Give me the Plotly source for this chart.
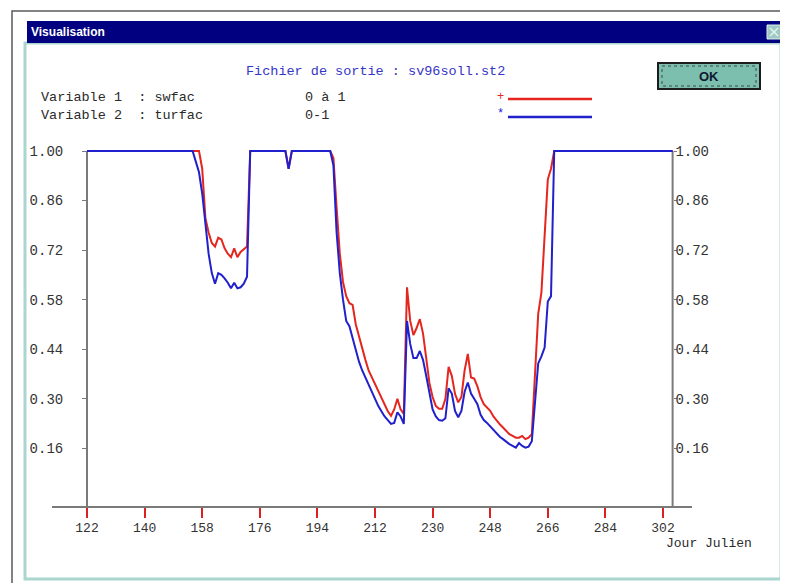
import plotly.graph_objects as go

# ---------------- data ----------------
swfac_days = [122, 157, 158, 159, 160, 161, 162, 163, 164, 165, 166, 167, 168, 169, 170, 171, 172, 173,
              184, 185, 186,
              198, 199, 200, 201, 202, 203, 204, 205, 206, 207, 208, 209, 210, 211, 212, 213, 214, 215,
              216, 217, 218, 219, 220, 221, 222, 223, 224, 225, 226, 227, 228, 229, 230, 231, 232, 233,
              234, 235, 236, 237, 238, 239, 240, 241, 242, 243, 244, 245, 246, 247, 248, 249, 250, 251,
              252, 253, 254, 255, 256, 257, 258, 259, 260, 261, 262, 263, 264, 265, 266, 267, 268, 305]
swfac = [1.0, 1.0, 0.95, 0.81, 0.77, 0.74, 0.73, 0.755, 0.75, 0.725, 0.71, 0.70, 0.725, 0.70, 0.715, 0.722, 0.73, 1.0,
         1.0, 0.95, 1.0,
         1.0, 0.98, 0.84, 0.71, 0.63, 0.59, 0.57, 0.565, 0.51, 0.475, 0.44, 0.41, 0.38, 0.36, 0.34, 0.32, 0.305, 0.285,
         0.265, 0.252, 0.27, 0.30, 0.27, 0.257, 0.615, 0.52, 0.48, 0.50, 0.525, 0.485, 0.41, 0.345, 0.305, 0.28, 0.272, 0.272,
         0.30, 0.39, 0.365, 0.314, 0.29, 0.305, 0.38, 0.427, 0.36, 0.357, 0.335, 0.305, 0.285, 0.275, 0.266, 0.25, 0.238, 0.228,
         0.219, 0.21, 0.20, 0.195, 0.19, 0.19, 0.195, 0.186, 0.19, 0.20, 0.36, 0.54, 0.60, 0.78, 0.92, 0.95, 1.0, 1.0]

turfac_days = [122, 155, 156, 157, 158, 159, 160, 161, 162, 163, 164, 165, 166, 167, 168, 169, 170, 171, 172, 173,
               184, 185, 186,
               198, 199, 200, 201, 202, 203, 204, 205, 206, 207, 208, 209, 210, 211, 212, 213, 214, 215,
               216, 217, 218, 219, 220, 221, 222, 223, 224, 225, 226, 227, 228, 229, 230, 231, 232, 233,
               234, 235, 236, 237, 238, 239, 240, 241, 242, 243, 244, 245, 246, 247, 248, 249, 250, 251,
               252, 253, 254, 255, 256, 257, 258, 259, 260, 261, 262, 263, 264, 265, 266, 267, 268, 305]
turfac = [1.0, 1.0, 0.97, 0.94, 0.88, 0.79, 0.71, 0.655, 0.625, 0.655, 0.65, 0.64, 0.628, 0.612, 0.628, 0.612, 0.615, 0.625, 0.645, 1.0,
          1.0, 0.95, 1.0,
          1.0, 0.96, 0.77, 0.655, 0.58, 0.52, 0.505, 0.47, 0.435, 0.405, 0.38, 0.36, 0.34, 0.315, 0.295, 0.28, 0.265, 0.25,
          0.24, 0.229, 0.232, 0.262, 0.25, 0.229, 0.52, 0.455, 0.415, 0.415, 0.435, 0.41, 0.365, 0.315, 0.27, 0.25, 0.24, 0.238,
          0.245, 0.33, 0.315, 0.266, 0.248, 0.266, 0.32, 0.346, 0.315, 0.30, 0.285, 0.255, 0.24, 0.232, 0.222, 0.21, 0.20, 0.193,
          0.186, 0.178, 0.172, 0.167, 0.162, 0.175, 0.167, 0.162, 0.165, 0.18, 0.30, 0.40, 0.42, 0.445, 0.575, 0.59, 1.0, 1.0]

x_ticks = [122, 140, 158, 176, 194, 212, 230, 248, 266, 284, 302]
y_ticks = [0.16, 0.30, 0.44, 0.58, 0.72, 0.86, 1.00]
y_ticktext = ["%.2f" % v for v in y_ticks]

title_text = "Fichier de sortie : sv96soll.st2"
var_labels = ["Variable 1  : swfac", "Variable 2  : turfac"]
var_ranges = ["0 à 1", "0-1"]
x_title = "Jour Julien"

# ---------------- styling / layout ----------------
OFF = 8                      # page body margin of the html page
W, H = 788 - OFF, 583 - OFF
# plot area in window pixels: x 52..692, y 143..506
ML, MR, MT, MB = 52 - OFF, 788 - 692, 143 - OFF, 583 - 506
PW, PH = W - ML - MR, H - MT - MB
X_RANGE = [111.06, 311.06]
Y_RANGE = [-0.0028, 1.0226]
DAY_FIRST, DAY_LAST = 122, 305

RED = "#e4261f"
BLUE = "#2020cc"
GRAY = "#7a7a7a"
MONO = "Liberation Mono, Courier New, monospace"
TEAL = "#a9d6cf"


def px(x):  # window pixel -> paper fraction
    return (x - OFF - ML) / PW


def py(y):
    return (OFF + MT + PH - y) / PH


fig = go.Figure()
fig.add_trace(go.Scatter(x=swfac_days, y=swfac, mode="lines", name="swfac",
                         line=dict(color=RED, width=2), xaxis="x", yaxis="y", hoverinfo="skip"))
fig.add_trace(go.Scatter(x=turfac_days, y=turfac, mode="lines", name="turfac",
                         line=dict(color=BLUE, width=2), xaxis="x", yaxis="y2", hoverinfo="skip"))

pos_left = (DAY_FIRST - X_RANGE[0]) / (X_RANGE[1] - X_RANGE[0])
pos_right = (DAY_LAST - X_RANGE[0]) / (X_RANGE[1] - X_RANGE[0])

shapes = []
annotations = []

# axis lines (vertical)
for d in (DAY_FIRST, DAY_LAST):
    shapes.append(dict(type="line", xref="x", yref="y", x0=d, x1=d, y0=Y_RANGE[0], y1=1.0,
                       line=dict(color=GRAY, width=2), layer="below"))

# dialog frame
shapes += [
    dict(type="rect", xref="paper", yref="paper", x0=px(12), x1=px(786), y0=py(11), y1=py(590),
         line=dict(color="#5a5a5a", width=1.5), fillcolor="rgba(0,0,0,0)", layer="below"),
    dict(type="rect", xref="paper", yref="paper", x0=px(25), x1=px(781), y0=py(43), y1=py(579),
         line=dict(color=TEAL, width=3), fillcolor="rgba(0,0,0,0)", layer="below"),
    dict(type="rect", xref="paper", yref="paper", x0=px(27), x1=px(785), y0=py(21), y1=py(43),
         line=dict(width=0), fillcolor="#000080", layer="above"),
    dict(type="rect", xref="paper", yref="paper", x0=px(767), x1=px(781), y0=py(25), y1=py(39),
         line=dict(color="#dfeeee", width=1), fillcolor="#9fc9c2", layer="above"),
    dict(type="line", xref="paper", yref="paper", x0=px(770), x1=px(778), y0=py(28), y1=py(36),
         line=dict(color="#e8f4f2", width=1.5), layer="above"),
    dict(type="line", xref="paper", yref="paper", x0=px(770), x1=px(778), y0=py(36), y1=py(28),
         line=dict(color="#e8f4f2", width=1.5), layer="above"),
    # OK button
    dict(type="rect", xref="paper", yref="paper", x0=px(658), x1=px(760), y0=py(63), y1=py(89),
         line=dict(color="#1c1c1c", width=2), fillcolor="#7cbfae", layer="above"),
    dict(type="rect", xref="paper", yref="paper", x0=px(662), x1=px(756), y0=py(66), y1=py(86),
         line=dict(color="#3a4a46", width=1, dash="dot"), fillcolor="rgba(0,0,0,0)", layer="above"),
    # legend samples
    dict(type="line", xref="paper", yref="paper", x0=px(508), x1=px(592), y0=py(99), y1=py(99),
         line=dict(color=RED, width=2.5), layer="above"),
    dict(type="line", xref="paper", yref="paper", x0=px(508), x1=px(592), y0=py(117), y1=py(117),
         line=dict(color=BLUE, width=2.5), layer="above"),
]


def ann(text, x, y, size=13, color="#2a2a2a", family=MONO, xanchor="left"):
    annotations.append(dict(text=text, x=px(x), y=py(y), xref="paper", yref="paper",
                            xanchor=xanchor, yanchor="middle", showarrow=False,
                            font=dict(family=family, size=size, color=color)))


ann("<b>Visualisation</b>", 29, 32, size=12, color="white", family="Liberation Sans, Arial, sans-serif")
ann(title_text, 375, 72, size=13.5, color="#3535c8", xanchor="center")
ann("<b>OK</b>", 709, 76, size=13, color="#101830", family="Liberation Sans, Arial, sans-serif", xanchor="center")
ann(var_labels[0], 39, 97, size=13.5)
ann(var_labels[1], 39, 115, size=13.5)
ann(var_ranges[0], 303, 97, size=13.5)
ann(var_ranges[1], 303, 115, size=13.5)
ann("+", 500, 97, size=12, color=RED, xanchor="center")
ann("*", 500, 114, size=12, color=BLUE, xanchor="center")
ann(x_title, 664, 543, size=13)

fig.update_layout(
    width=W, height=H,
    margin=dict(l=ML, r=MR, t=MT, b=MB, pad=0),
    paper_bgcolor="white", plot_bgcolor="white",
    showlegend=False,
    xaxis=dict(range=X_RANGE, anchor="y", showline=True, linecolor=GRAY, linewidth=2,
               showgrid=False, zeroline=False, ticks="outside", ticklen=10, tickwidth=2,
               tickcolor="#e02020", tickvals=x_ticks, ticktext=[str(t) for t in x_ticks],
               tickfont=dict(family=MONO, size=13, color="#333333"), ticklabelstandoff=-2,
               fixedrange=True),
    yaxis=dict(range=Y_RANGE, anchor="free", position=pos_left, side="left",
               showline=False, showgrid=False, zeroline=False, ticks="outside", ticklen=5,
               tickwidth=1, tickcolor=GRAY, tickvals=y_ticks, ticktext=y_ticktext,
               tickfont=dict(family=MONO, size=14, color="#333333"), ticklabelstandoff=16,
               fixedrange=True),
    yaxis2=dict(range=Y_RANGE, anchor="free", position=pos_right, side="right", overlaying="y",
                showline=False, showgrid=False, zeroline=False, ticks="outside", ticklen=3,
                tickwidth=1, tickcolor=GRAY, tickvals=y_ticks, ticktext=y_ticktext,
                tickfont=dict(family=MONO, size=14, color="#333333"), ticklabelstandoff=-4,
                fixedrange=True),
    shapes=shapes,
    annotations=annotations,
)

fig.write_html("out.html")
